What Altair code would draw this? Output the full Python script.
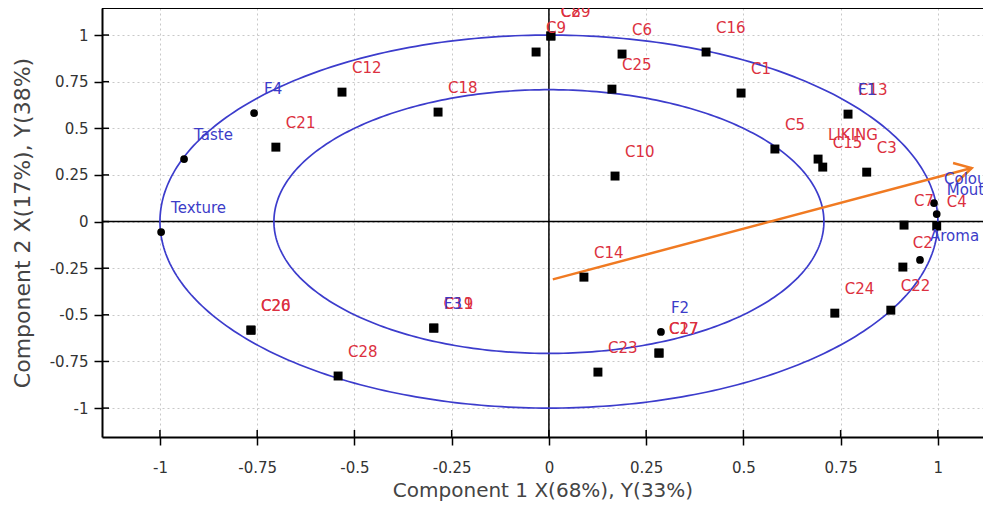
import altair as alt
import pandas as pd
import numpy as np

# ---- observations (black squares, red labels) ----
obs_names = ["C8", "C29", "C9", "C6", "C16", "C25", "C1", "C13", "C5", "LIKING",
             "C15", "C3", "C10", "C4", "C7", "C2", "C22", "C24", "C14", "C17",
             "C27", "C23", "C28", "C20", "C26", "C11", "C19", "C18", "C12", "C21"]
obs_x = [0.005, 0.005, -0.033, 0.188, 0.404, 0.162, 0.494, 0.769, 0.581, 0.692,
         0.704, 0.817, 0.170, 0.997, 0.913, 0.910, 0.879, 0.735, 0.090, 0.283,
         0.283, 0.126, -0.542, -0.766, -0.766, -0.296, -0.296, -0.285, -0.532, -0.702]
obs_y = [0.995, 0.995, 0.909, 0.898, 0.909, 0.710, 0.689, 0.576, 0.389, 0.335,
         0.292, 0.265, 0.244, -0.024, -0.019, -0.244, -0.475, -0.491, -0.298, -0.705,
         -0.705, -0.807, -0.828, -0.582, -0.582, -0.571, -0.571, 0.587, 0.694, 0.399]

# ---- variables (black circles, blue labels) ----
var_names = ["F1", "F3", "F4", "Taste", "Texture", "Colour", "Mouth", "Aroma", "F2"]
var_x = [0.769, -0.296, -0.758, -0.938, -0.997, 0.990, 0.997, 0.954, 0.288]
var_y = [0.576, -0.571, 0.582, 0.335, -0.056, 0.099, 0.040, -0.206, -0.592]

# ---- correlation circles (radius 1 and sqrt(0.5)) ----
circle_radii = [1.0, 0.707]

# ---- hand-drawn orange arrow ----
arrow_x = [0.010, 1.087]
arrow_y = [-0.310, 0.287]
head_x = [1.039, 1.087, 1.049]
head_y = [0.314, 0.287, 0.212]

ticks = [-1, -0.75, -0.5, -0.25, 0, 0.25, 0.5, 0.75, 1]
X_DOM = [-1.149, 1.116]
Y_DOM = [-1.155, 1.145]

W, H = 881, 429
RED = "#dc3040"
BLUE = "#3c3cc8"
FONT = "DejaVu Sans"

obs = pd.DataFrame({"name": obs_names, "x": obs_x, "y": obs_y})
var = pd.DataFrame({"name": var_names, "x": var_x, "y": var_y})
tick_df = pd.DataFrame({"t": ticks})

theta = np.linspace(0, 2 * np.pi, 361)
circ_rows = []
for r in circle_radii:
    for i, t in enumerate(theta):
        circ_rows.append({"r": str(r), "i": i, "x": r * np.cos(t), "y": r * np.sin(t)})
circ = pd.DataFrame(circ_rows)

xs = alt.Scale(domain=X_DOM, nice=False, zero=False)
ys = alt.Scale(domain=Y_DOM, nice=False, zero=False)

common = dict(values=ticks, labelExpr="datum.value + ''", grid=True, gridDash=[2, 3],
              gridColor="#c8c8c8", domainColor="black", domainWidth=2, tickColor="black",
              tickSize=8, tickWidth=1.5, labelFontSize=15, labelFont=FONT, labelColor="#333",
              titleFont=FONT, titleFontWeight="normal", titleColor="#444")
xaxis = alt.Axis(title="Component 1 X(68%), Y(33%)", labelPadding=15, titlePadding=5,
                 titleFontSize=20, **common)
yaxis = alt.Axis(title="Component 2 X(17%), Y(38%)", labelPadding=6, titlePadding=15,
                 titleFontSize=22, **common)

axes_layer = alt.Chart(obs).mark_point(opacity=0).encode(
    x=alt.X("x:Q", scale=xs, axis=xaxis), y=alt.Y("y:Q", scale=ys, axis=yaxis))

zero_v = alt.Chart(pd.DataFrame({"x": [0]})).mark_rule(color="black", strokeWidth=1.5).encode(
    x=alt.X("x:Q", scale=xs))
zero_h = alt.Chart(pd.DataFrame({"y": [0]})).mark_rule(color="black", strokeWidth=1.5).encode(
    y=alt.Y("y:Q", scale=ys))
top_border = alt.Chart(pd.DataFrame({"y": [Y_DOM[1]]})).mark_rule(color="black", strokeWidth=2).encode(
    y=alt.Y("y:Q", scale=ys))

# inner halves of the tick marks (ticks cross the frame)
xin = alt.Chart(tick_df).mark_rule(color="black", strokeWidth=1.5).encode(
    x=alt.X("t:Q", scale=xs), y=alt.value(H), y2=alt.value(H - 7))
yin = alt.Chart(tick_df).mark_rule(color="black", strokeWidth=1.5).encode(
    y=alt.Y("t:Q", scale=ys), x=alt.value(0), x2=alt.value(7))

circles = alt.Chart(circ).mark_line(color="#3c3ccc", strokeWidth=1.7).encode(
    x=alt.X("x:Q", scale=xs), y=alt.Y("y:Q", scale=ys), detail="r:N", order="i:Q")

arrow = alt.Chart(pd.DataFrame({"x": arrow_x, "y": arrow_y, "i": [0, 1]})).mark_line(
    color="#f07a22", strokeWidth=2.5).encode(
    x=alt.X("x:Q", scale=xs), y=alt.Y("y:Q", scale=ys), order="i:Q")
head = alt.Chart(pd.DataFrame({"x": head_x, "y": head_y, "i": [0, 1, 2]})).mark_line(
    color="#f07a22", strokeWidth=2.5).encode(
    x=alt.X("x:Q", scale=xs), y=alt.Y("y:Q", scale=ys), order="i:Q")

var_pts = alt.Chart(var).mark_point(shape="circle", filled=True, color="black", opacity=1, size=60).encode(
    x=alt.X("x:Q", scale=xs), y=alt.Y("y:Q", scale=ys))
obs_pts = alt.Chart(obs).mark_point(shape="square", filled=True, color="black", opacity=1, size=80).encode(
    x=alt.X("x:Q", scale=xs), y=alt.Y("y:Q", scale=ys))

obs_txt = alt.Chart(obs).mark_text(align="left", baseline="middle", dx=10, dy=-24, font=FONT,
                                   fontSize=15, color=RED).encode(
    x=alt.X("x:Q", scale=xs), y=alt.Y("y:Q", scale=ys), text="name:N")
var_txt = alt.Chart(var).mark_text(align="left", baseline="middle", dx=10, dy=-24, font=FONT,
                                   fontSize=15, color=BLUE).encode(
    x=alt.X("x:Q", scale=xs), y=alt.Y("y:Q", scale=ys), text="name:N")

chart = alt.layer(axes_layer, zero_v, zero_h, top_border, xin, yin, circles, arrow, head,
                  var_pts, obs_pts, obs_txt, var_txt).properties(
    width=W, height=H,
    autosize=alt.AutoSizeParams(type="none"),
    padding={"left": 94, "top": 0, "right": 0, "bottom": 64},
).configure_view(stroke=None).configure(background="white")

chart.save("out.html", embed_options={"renderer": "svg", "actions": False})
